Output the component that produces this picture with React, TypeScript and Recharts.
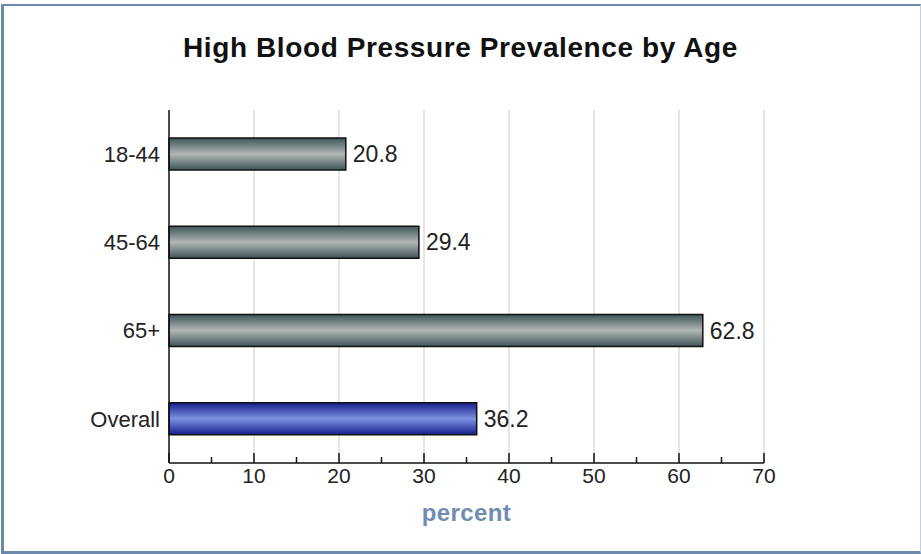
import React from "react";
import { BarChart, Bar, XAxis, YAxis, CartesianGrid, Cell, LabelList } from "recharts";

const categories = ["18-44", "45-64", "65+", "Overall"];
const values = [20.8, 29.4, 62.8, 36.2];
const highlight = [false, false, false, true];
const xTicks = [0, 5, 10, 15, 20, 25, 30, 35, 40, 45, 50, 55, 60, 65, 70];
const title = "High Blood Pressure Prevalence by Age";
const xLabel = "percent";

const data = categories.map((c, i) => ({ name: c, value: values[i], hi: highlight[i] }));

const FONT = "'Liberation Sans', Arial, sans-serif";

const isMajor = (v: number) => v % 10 === 0;

const XTick = (props: any) => {
  const { x, y, payload } = props;
  const major = isMajor(payload.value);
  return (
    <g>
      <line x1={x} x2={x} y1={y} y2={y - (major ? 10 : 6)} stroke="#111" strokeWidth={1.5} />
      {major && (
        <text x={x} y={y + 20} textAnchor="middle" fontSize={21} fill="#222" fontFamily={FONT}>
          {payload.value}
        </text>
      )}
    </g>
  );
};

const GridLine = (p: any) => {
  const v = xTicks[p.index];
  if (v === undefined || !isMajor(v) || v === 0) return <g key={p.key} />;
  return <line key={p.key} x1={p.x1} x2={p.x2} y1={p.y1} y2={p.y2} stroke="#dcdcdc" strokeWidth={1.5} />;
};

export default function App() {
  return (
    <div style={{ position: "absolute", left: 0, top: 0, width: 921, height: 554, background: "#fff", fontFamily: FONT }}>
      <div
        style={{
          position: "absolute",
          left: 1,
          top: 4,
          right: 0,
          bottom: 0,
          boxSizing: "border-box",
          borderLeft: "3px solid #6b89ad",
          borderTop: "2px solid #6b89ad",
          borderBottom: "3px solid #6b89ad",
          borderRight: "1px solid #c2cfdc",
        }}
      />
      <div
        style={{
          position: "absolute",
          left: 0,
          top: 33,
          width: 921,
          textAlign: "center",
          fontSize: 28,
          letterSpacing: 0.6,
          lineHeight: "30px",
          fontWeight: "bold",
          color: "#111",
          fontFamily: FONT,
        }}
      >
        {title}
      </div>
      <div style={{ position: "absolute", left: 0, top: 0 }}>
        <BarChart
          width={921}
          height={554}
          data={data}
          layout="vertical"
          margin={{ top: 110, right: 157, bottom: 31, left: 0 }}
          barSize={32}
        >
          <defs>
            <linearGradient id="gGray" x1="0" y1="0" x2="0" y2="1">
              <stop offset="0%" stopColor="#3e5558" />
              <stop offset="50%" stopColor="#b2b6b6" />
              <stop offset="100%" stopColor="#3e5558" />
            </linearGradient>
            <linearGradient id="gBlue" x1="0" y1="0" x2="0" y2="1">
              <stop offset="0%" stopColor="#151d8a" />
              <stop offset="50%" stopColor="#7d92e2" />
              <stop offset="100%" stopColor="#151d8a" />
            </linearGradient>
          </defs>
          <CartesianGrid horizontal={false} vertical={GridLine} />
          <XAxis
            type="number"
            domain={[0, 70]}
            ticks={xTicks}
            interval={0}
            tickLine={false}
            tickSize={0}
            tickMargin={0}
            tick={<XTick />}
            axisLine={{ stroke: "#111", strokeWidth: 1.5 }}
            height={60}
            label={{
              value: xLabel,
              position: "insideBottom",
              offset: 2,
              fill: "#6f8db0",
              fontSize: 24,
              letterSpacing: 0.4,
              fontWeight: "bold",
              fontFamily: FONT,
            }}
          />
          <YAxis
            type="category"
            dataKey="name"
            width={169}
            tickLine={false}
            tickMargin={3}
            axisLine={{ stroke: "#111", strokeWidth: 1.5 }}
            tick={{ fontSize: 22, fill: "#222", fontFamily: FONT }}
          />
          <Bar dataKey="value" isAnimationActive={false} stroke="#111" strokeWidth={1.5}>
            {data.map((d, i) => (
              <Cell key={i} fill={d.hi ? "url(#gBlue)" : "url(#gGray)"} />
            ))}
            <LabelList dataKey="value" position="right" offset={7} fontSize={23} fill="#222" fontFamily={FONT} />
          </Bar>
        </BarChart>
      </div>
    </div>
  );
}
